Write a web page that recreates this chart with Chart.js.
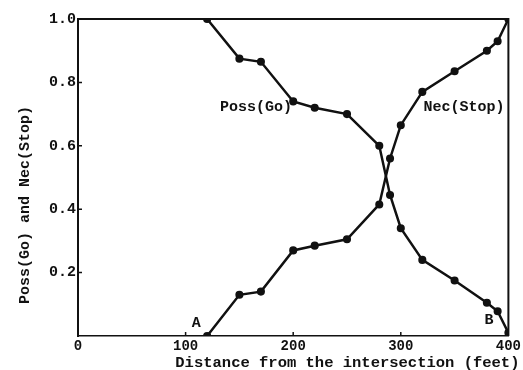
<!DOCTYPE html>
<html>
<head>
<meta charset="utf-8">
<script src="https://cdn.jsdelivr.net/npm/chart.js@4"></script>
<style>
  html, body { margin: 0; padding: 0; background: #fff; }
  #wrap { width: 523px; height: 370px; }
</style>
</head>
<body>
<div id="wrap"><canvas id="chart"></canvas></div>
<script>
// Distance from the intersection (feet)
const distances = [120, 150, 170, 200, 220, 250, 280, 290, 300, 320, 350, 380, 390, 400];
const possGo = [1.0, 0.875, 0.865, 0.74, 0.72, 0.70, 0.60, 0.445, 0.34, 0.24, 0.175, 0.105, 0.078, 0.01];
const necStop = [0, 0.13, 0.14, 0.27, 0.285, 0.305, 0.415, 0.56, 0.665, 0.77, 0.835, 0.90, 0.93, 1.0];
const xTicks = [0, 100, 200, 300, 400];
const yTicks = [0.2, 0.4, 0.6, 0.8, 1.0];

const xTitle = 'Distance from the intersection (feet)';
const yTitle = 'Poss(Go) and Nec(Stop)';

// text labels placed in data coordinates
const notes = [
  { text: 'Poss(Go)', x: 199, y: 0.722, align: 'right' },
  { text: 'Nec(Stop)', x: 321, y: 0.722, align: 'left' },
  { text: 'A', x: 110, y: 0.04, align: 'center' },
  { text: 'B', x: 382, y: 0.05, align: 'center' }
];

const fontFamily = "'Liberation Mono', 'DejaVu Sans Mono', monospace";
const ink = '#111';

const toPoints = ys => distances.map((d, i) => ({ x: d, y: ys[i] }));

// frame on top and right, inward ticks, titles and annotations
const framePlugin = {
  id: 'frame',
  afterDatasetsDraw(chart) {
    const { ctx, chartArea: a, scales } = chart;
    ctx.save();
    ctx.strokeStyle = ink;
    ctx.lineWidth = 2;
    ctx.beginPath();
    ctx.moveTo(a.left, a.top);
    ctx.lineTo(a.right, a.top);
    ctx.lineTo(a.right, a.bottom);
    ctx.stroke();

    // small inward tick marks
    ctx.lineWidth = 1.5;
    ctx.beginPath();
    yTicks.forEach(v => {
      const py = scales.y.getPixelForValue(v);
      ctx.moveTo(a.left, py);
      ctx.lineTo(a.left + 4, py);
    });
    xTicks.slice(1, -1).forEach(v => {
      const px = scales.x.getPixelForValue(v);
      ctx.moveTo(px, a.bottom);
      ctx.lineTo(px, a.bottom - 4);
    });
    ctx.stroke();

    ctx.fillStyle = ink;
    ctx.font = "bold 15px " + fontFamily;
    ctx.textBaseline = 'middle';
    notes.forEach(n => {
      ctx.textAlign = n.align;
      ctx.fillText(n.text, scales.x.getPixelForValue(n.x), scales.y.getPixelForValue(n.y));
    });

    // axis titles, set off-centre as in the original figure
    ctx.textAlign = 'center';
    ctx.font = "bold 15.5px " + fontFamily;
    ctx.fillText(xTitle, a.right - 161, a.bottom + 27);
    ctx.translate(25, a.top + 186);
    ctx.rotate(-Math.PI / 2);
    ctx.font = "bold 15px " + fontFamily;
    ctx.fillText(yTitle, 0, 0);
    ctx.restore();
  }
};

const lineStyle = {
  borderColor: ink,
  backgroundColor: ink,
  borderWidth: 2.5,
  pointRadius: 2.8,
  pointHoverRadius: 2.8,
  tension: 0,
  fill: false
};

new Chart(document.getElementById('chart'), {
  type: 'line',
  data: {
    datasets: [
      Object.assign({ label: 'Poss(Go)', data: toPoints(possGo) }, lineStyle),
      Object.assign({ label: 'Nec(Stop)', data: toPoints(necStop) }, lineStyle)
    ]
  },
  options: {
    responsive: true,
    maintainAspectRatio: false,
    animation: false,
    layout: { padding: { top: 19, right: 13, left: 0, bottom: 0 } },
    plugins: {
      legend: { display: false },
      tooltip: { enabled: false }
    },
    scales: {
      x: {
        type: 'linear',
        min: 0,
        max: 400,
        afterFit: s => { s.height = 34; },
        afterBuildTicks: s => { s.ticks = xTicks.map(v => ({ value: v })); },
        grid: { display: false, drawTicks: false },
        border: { color: ink, width: 1.5 },
        ticks: {
          color: ink,
          padding: 2,
          font: { family: fontFamily, size: 14, weight: 'bold' }
        }
      },
      y: {
        min: 0,
        max: 1,
        afterFit: s => { s.width = 78; },
        afterBuildTicks: s => { s.ticks = yTicks.map(v => ({ value: v })); },
        grid: { display: false, drawTicks: false },
        border: { color: ink, width: 2 },
        ticks: {
          color: ink,
          padding: 2,
          font: { family: fontFamily, size: 15, weight: 'bold' },
          callback: v => v.toFixed(1)
        }
      }
    }
  },
  plugins: [framePlugin]
});
</script>
</body>
</html>
